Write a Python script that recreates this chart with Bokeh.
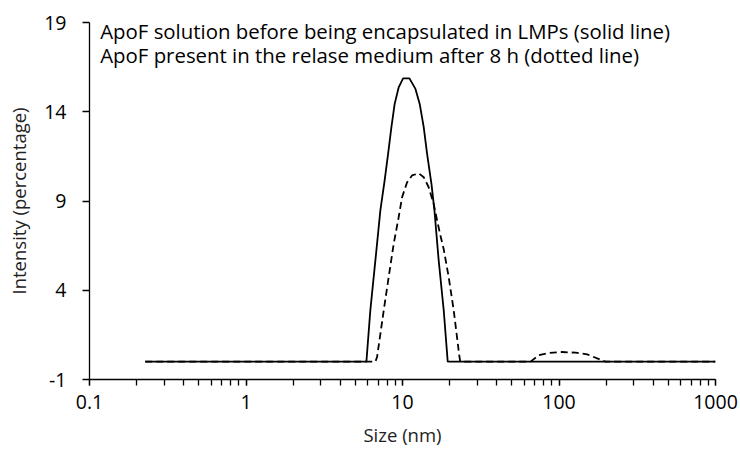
from bokeh.plotting import figure
from bokeh.models import Range1d, FixedTicker, Label
from bokeh.embed import file_html
from bokeh.resources import INLINE

# Data
size_solid = [0.227, 5.88, 6.23, 6.71, 7.22, 7.69, 8.09, 8.49, 8.91, 9.45, 10.09, 11.07, 12.10,
              12.88, 13.67, 14.36, 15.31, 16.00, 17.03, 18.34, 19.45, 1000]
intensity_solid = [0, 0, 2.88, 5.67, 8.47, 10.15, 11.64, 13.13, 14.44, 15.36, 15.87, 15.87, 15.28,
                   14.44, 13.13, 11.64, 9.96, 8.47, 5.67, 2.88, 0, 0]

size_dotted = [0.227, 6.71, 6.88, 7.59, 8.16, 8.79, 9.45, 9.94, 10.70, 11.51, 12.70, 13.67, 14.70,
               15.82, 16.64, 17.47, 18.34, 19.73, 21.24, 23.12, 23.4,
               65.8, 74.3, 85.0, 104.7, 128.0, 151.3, 198, 1000]
intensity_dotted = [0, 0, 0.26, 2.88, 4.74, 6.61, 8.09, 9.21, 10.05, 10.43, 10.55, 10.33, 9.77,
                    8.84, 7.91, 7.07, 6.3, 4.74, 2.88, 0.26, 0,
                    0, 0.36, 0.48, 0.54, 0.50, 0.41, 0, 0]

y_ticks = [-1, 4, 9, 14, 19]
x_ticks = [0.1, 1, 10, 100, 1000]
notes = ["ApoF solution before being encapsulated in LMPs (solid line)",
         "ApoF present in the relase medium after 8 h (dotted line)"]
note_x = [0.117, 0.117]
note_y = [18.54, 17.17]

FONT = "Open Sans"

p = figure(width=740, height=451, x_axis_type="log", output_backend="svg",
           toolbar_location=None, x_range=Range1d(0.1, 1000), y_range=Range1d(-1, 19),
           min_border_left=89, min_border_right=25, min_border_top=22, min_border_bottom=72)
p.outline_line_color = None
p.xgrid.visible = False
p.ygrid.visible = False
p.background_fill_color = "white"

p.line(size_solid, intensity_solid, line_color="black", line_width=1.8)
p.line(size_dotted, intensity_dotted, line_color="black", line_width=1.8, line_dash="7 4")

xa = p.xaxis[0]
xa.ticker = FixedTicker(ticks=x_ticks,
                        minor_ticks=[m * d for d in [0.1, 1, 10, 100] for m in range(1, 11)])
xa.major_label_overrides = {0.1: "0.1", 1: "1", 10: "10", 100: "100", 1000: "1000"}
xa.axis_label = "Size (nm)"
xa.major_tick_in = 0
xa.major_tick_out = 6
xa.minor_tick_in = 0
xa.minor_tick_out = 6
xa.major_label_standoff = 9
xa.axis_label_standoff = 10

ya = p.yaxis[0]
ya.ticker = FixedTicker(ticks=y_ticks)
ya.major_label_overrides = {t: str(t) for t in y_ticks}
ya.axis_label = "Intensity (percentage)"
ya.major_tick_in = 0
ya.major_tick_out = 7
ya.minor_tick_out = 0
ya.minor_tick_in = 0
ya.major_label_standoff = 16
ya.axis_label_standoff = 10

for ax in (xa, ya):
    ax.axis_line_color = "black"
    ax.major_label_text_font = FONT
    ax.major_label_text_font_size = "19.5px"
    ax.major_label_text_color = "black"
    ax.axis_label_text_font = FONT
    ax.axis_label_text_font_size = "18.5px"
    ax.axis_label_text_font_style = "normal"
    ax.axis_label_text_color = "#222222"
    ax.axis_line_width = 1.3
    ax.major_tick_line_width = 1.3
    ax.minor_tick_line_width = 1.3

for t, nx, ny in zip(notes, note_x, note_y):
    p.add_layout(Label(x=nx, y=ny, text=t, text_font=FONT, text_font_size="20.4px",
                       text_color="black", text_baseline="middle"))

open("out.html", "w").write(file_html(p, INLINE))
